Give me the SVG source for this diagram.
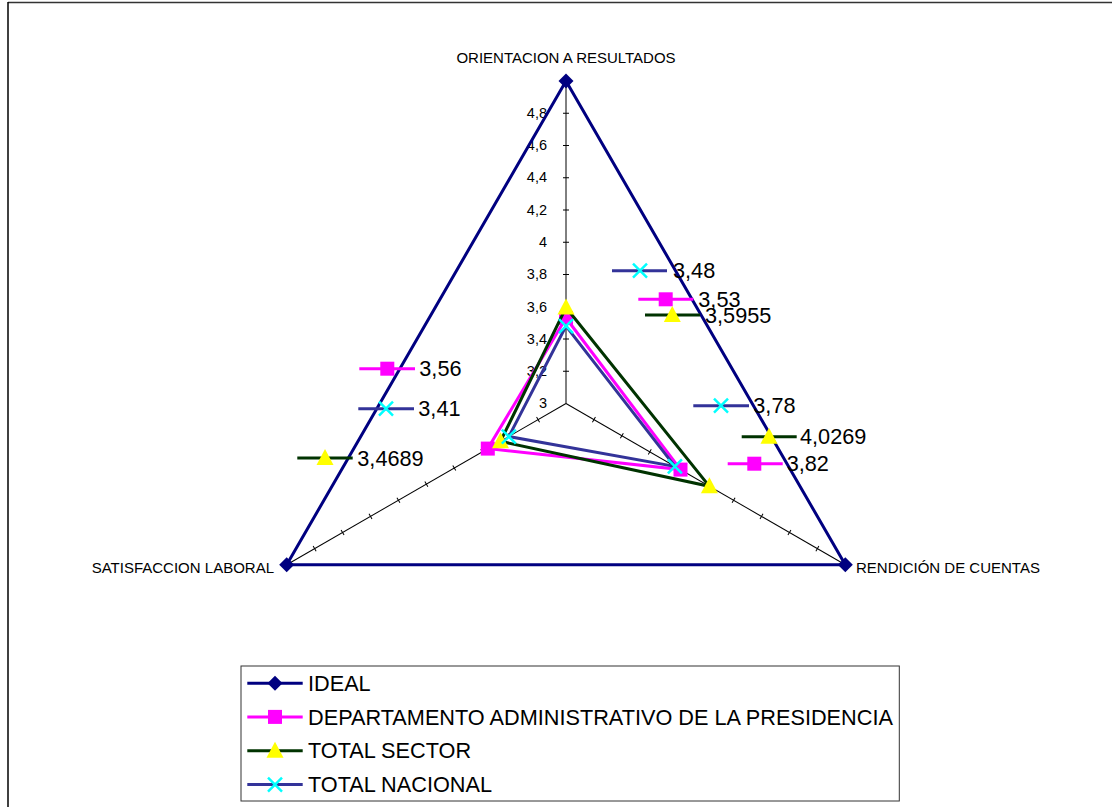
<svg xmlns="http://www.w3.org/2000/svg" xmlns:xlink="http://www.w3.org/1999/xlink" width="1112" height="807" viewBox="0 0 1112 807">
<style>
text{font-family:"Liberation Sans",Arial,sans-serif;fill:#000}
.ax{font-size:15px}
.tk{font-size:14.5px}
.dl{font-size:21.7px}
.lg{font-size:21.7px}
.axis{stroke:#000;stroke-width:1;fill:none}
.ideal{stroke:#000080;stroke-width:3;fill:none}
.dept{stroke:#FF00FF;stroke-width:3;fill:none}
.sect{stroke:#003300;stroke-width:3;fill:none}
.nac{stroke:#333399;stroke-width:3;fill:none}
</style>
<defs>
<polygon id="mDia" points="0,-7.5 7.5,0 0,7.5 -7.5,0" fill="#000080"/>
<rect id="mSq" x="-7" y="-7" width="14" height="14" fill="#FF00FF"/>
<polygon id="mTri" points="0,-9 8.5,7 -8.5,7" fill="#FFFF00"/>
<g id="mX" stroke="#00FFFF" stroke-width="2.5"><line x1="-7" y1="-7" x2="7" y2="7"/><line x1="-7" y1="7" x2="7" y2="-7"/></g>
<g id="axisT" class="axis">
<line x1="0" y1="0" x2="322.5" y2="0"/>
<path d="M32.25,-3V3M64.5,-3V3M96.75,-3V3M129,-3V3M161.25,-3V3M193.5,-3V3M225.75,-3V3M258,-3V3M290.25,-3V3"/>
</g>
</defs>
<g id="frame">
<line x1="8" y1="2.5" x2="1112" y2="2.5" stroke="#333" stroke-width="1.5"/>
<line x1="8" y1="2" x2="8" y2="807" stroke="#000" stroke-width="1.5"/>
</g>
<g id="axes">
<use xlink:href="#axisT" transform="translate(566,403.5) rotate(-90)"/>
<use xlink:href="#axisT" transform="translate(566,403.5) rotate(30)"/>
<use xlink:href="#axisT" transform="translate(566,403.5) rotate(150)"/>
<g class="tk" text-anchor="end">
<text x="547" y="408">3</text>
<text x="547" y="376">3,2</text>
<text x="547" y="344">3,4</text>
<text x="547" y="311.5">3,6</text>
<text x="547" y="279">3,8</text>
<text x="547" y="247">4</text>
<text x="547" y="214.5">4,2</text>
<text x="547" y="182">4,4</text>
<text x="547" y="150">4,6</text>
<text x="547" y="117.5">4,8</text>
</g>
</g>
<g id="axis-labels" class="ax">
<text x="566" y="63" text-anchor="middle">ORIENTACION A RESULTADOS</text>
<text x="856" y="572.5">RENDICIÓN DE CUENTAS</text>
<text x="274" y="572.5" text-anchor="end">SATISFACCION LABORAL</text>
</g>
<g id="connectors">
<g id="series-ideal">
<polygon class="ideal" points="566,81 845.3,564.75 286.7,564.75"/>
<use xlink:href="#mDia" x="566" y="81"/>
<use xlink:href="#mDia" x="845.3" y="564.75"/>
<use xlink:href="#mDia" x="286.7" y="564.75"/>
</g>
<g id="series-dept">
<polygon class="dept" points="566,318 680.5,469.6 487.8,448.6"/>
<use xlink:href="#mSq" x="566" y="318"/>
<use xlink:href="#mSq" x="680.5" y="469.6"/>
<use xlink:href="#mSq" x="487.8" y="448.6"/>
</g>
<g id="series-sector">
<polygon class="sect" points="566,307.5 709.4,486.3 500.5,441.3"/>
<use xlink:href="#mTri" x="566" y="307.5"/>
<use xlink:href="#mTri" x="709.4" y="486.3"/>
<use xlink:href="#mTri" x="500.5" y="441.3"/>
</g>
<g id="series-nacional">
<polygon class="nac" points="566,326.1 674.9,466.4 508.8,436.6"/>
<use xlink:href="#mX" x="566" y="326.1"/>
<use xlink:href="#mX" x="674.9" y="466.4"/>
<use xlink:href="#mX" x="508.8" y="436.6"/>
</g>
</g>
<g id="data-labels" class="dl">
<g id="dl-348"><line class="nac" x1="612" y1="270.7" x2="667" y2="270.7"/><use xlink:href="#mX" x="640" y="270.7"/><text x="673" y="278.3">3,48</text></g>
<g id="dl-353"><line class="dept" x1="638.3" y1="299.3" x2="693.3" y2="299.3"/><use xlink:href="#mSq" x="665.7" y="299.3"/><text x="698.3" y="306.8">3,53</text></g>
<g id="dl-35955"><line class="sect" x1="645" y1="315" x2="700" y2="315"/><use xlink:href="#mTri" x="672.3" y="315"/><text x="705" y="322.6">3,5955</text></g>
<g id="dl-378"><line class="nac" x1="693.3" y1="405.7" x2="749" y2="405.7"/><use xlink:href="#mX" x="721" y="405.7"/><text x="753.3" y="413.3">3,78</text></g>
<g id="dl-40269"><line class="sect" x1="741.7" y1="436.7" x2="796.7" y2="436.7"/><use xlink:href="#mTri" x="769" y="436.7"/><text x="800" y="444.3">4,0269</text></g>
<g id="dl-382"><line class="dept" x1="727.7" y1="463.7" x2="782.7" y2="463.7"/><use xlink:href="#mSq" x="754.3" y="463.7"/><text x="786.7" y="471.3">3,82</text></g>
<g id="dl-356"><line class="dept" x1="359.3" y1="368.7" x2="415" y2="368.7"/><use xlink:href="#mSq" x="387.3" y="368.7"/><text x="419.3" y="376.3">3,56</text></g>
<g id="dl-341"><line class="nac" x1="358.3" y1="408.7" x2="414" y2="408.7"/><use xlink:href="#mX" x="386" y="408.7"/><text x="418.3" y="416.3">3,41</text></g>
<g id="dl-34689"><line class="sect" x1="297.3" y1="458" x2="352.7" y2="458"/><use xlink:href="#mTri" x="325" y="458"/><text x="357.3" y="465.6">3,4689</text></g>
</g>
<g id="legend" class="lg">
<rect x="241" y="666" width="658.3" height="135" fill="#fff" stroke="#333" stroke-width="1"/>
<g id="lg-ideal"><line class="ideal" x1="247.3" y1="683.3" x2="302.7" y2="683.3"/><use xlink:href="#mDia" x="275" y="683.3"/><text x="308" y="691">IDEAL</text></g>
<g id="lg-dept"><line class="dept" x1="247.3" y1="716.9" x2="302.7" y2="716.9"/><use xlink:href="#mSq" x="275" y="716.9"/><text x="308" y="724.6">DEPARTAMENTO ADMINISTRATIVO DE LA PRESIDENCIA</text></g>
<g id="lg-sector"><line class="sect" x1="247.3" y1="750.7" x2="302.7" y2="750.7"/><use xlink:href="#mTri" x="275" y="750.7"/><text x="308" y="758.4">TOTAL SECTOR</text></g>
<g id="lg-nac"><line class="nac" x1="247.3" y1="784.6" x2="302.7" y2="784.6"/><use xlink:href="#mX" x="275" y="784.6"/><text x="308" y="792.3">TOTAL NACIONAL</text></g>
</g>
</svg>
